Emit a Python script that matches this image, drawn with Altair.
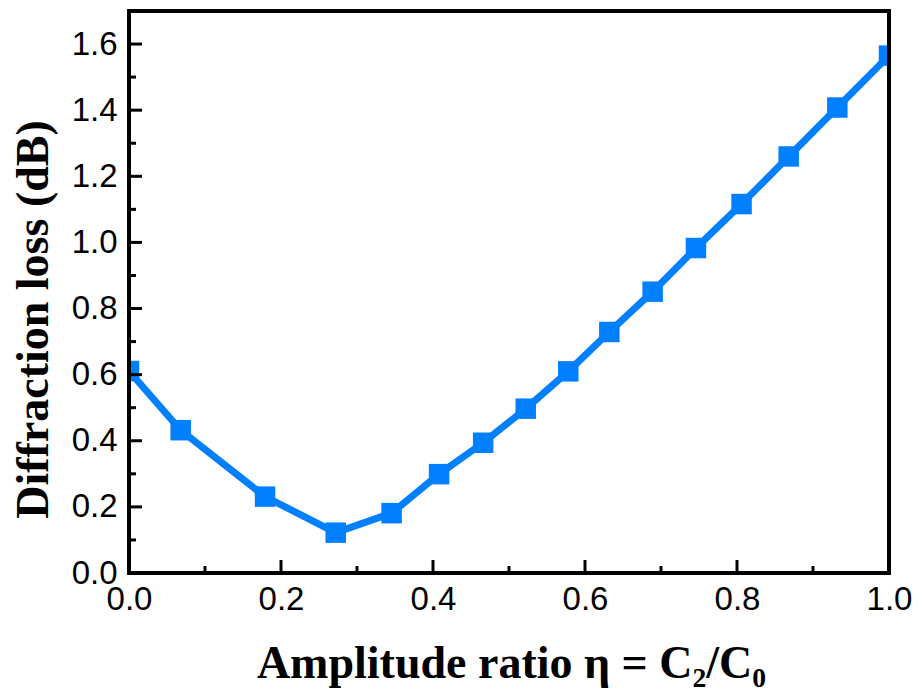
import altair as alt
import pandas as pd

# ---- data ----
eta = [0.0, 0.068, 0.179, 0.272, 0.3455, 0.408, 0.466, 0.522, 0.578, 0.632,
       0.689, 0.746, 0.806, 0.868, 0.932, 1.0]
loss = [0.611, 0.432, 0.231, 0.122, 0.181, 0.299, 0.394, 0.497, 0.610, 0.729,
        0.851, 0.983, 1.116, 1.260, 1.408, 1.565]

y_major = [0.0, 0.2, 0.4, 0.6, 0.8, 1.0, 1.2, 1.4, 1.6]
y_minor = [0.1, 0.3, 0.5, 0.7, 0.9, 1.1, 1.3, 1.5]
x_major = [0.0, 0.2, 0.4, 0.6, 0.8, 1.0]
x_minor = [0.1, 0.3, 0.5, 0.7, 0.9]

x_title = "Amplitude ratio η = C₂/C₀"
y_title = "Diffraction loss (dB)"

W, H = 760, 562
BLUE = "#0080FF"

df = pd.DataFrame({"eta": eta, "loss": loss})
xs = alt.Scale(domain=[0, 1], nice=False, zero=False)
ys = alt.Scale(domain=[0, 1.7], nice=False, zero=False)

x_axis = alt.Axis(values=x_major, format=".1f", title=x_title, ticks=False,
                  domain=False, grid=False, labelFont="Liberation Sans",
                  labelFontSize=33, labelColor="black", labelPadding=10,
                  labelFlush=False, labelOverlap=False,
                  titleFont="Liberation Serif", titleFontSize=46,
                  titleFontWeight="bold", titleColor="black",
                  titleX=382, titleY=104, titleBaseline="alphabetic",
                  titleAlign="center")
y_axis = alt.Axis(values=y_major, format=".1f", title=y_title, ticks=False,
                  domain=False, grid=False, labelFont="Liberation Sans",
                  labelFontSize=33, labelColor="black", labelPadding=12,
                  labelFlush=False, labelOverlap=False,
                  titleFont="Liberation Serif", titleFontSize=46,
                  titleFontWeight="bold", titleColor="black",
                  titleX=-82, titleY=308, titleAngle=270,
                  titleBaseline="alphabetic", titleAlign="center")

X = alt.X("eta:Q", scale=xs, axis=x_axis)
Y = alt.Y("loss:Q", scale=ys, axis=y_axis)

line = alt.Chart(df).mark_line(color=BLUE, strokeWidth=7, clip=True).encode(x=X, y=Y)
pts = alt.Chart(df).mark_point(shape="square", filled=True, size=420,
                               color=BLUE, opacity=1, clip=True).encode(x=X, y=Y)

ymaj = pd.DataFrame({"loss": y_major})
ymin = pd.DataFrame({"loss": y_minor})
xmaj = pd.DataFrame({"eta": x_major})
xmin = pd.DataFrame({"eta": x_minor})

tick_style = dict(color="black", strokeWidth=3)
left_major = alt.Chart(ymaj).mark_rule(**tick_style).encode(
    y=Y, x=alt.value(0), x2=alt.value(13))
left_minor = alt.Chart(ymin).mark_rule(**tick_style).encode(
    y=Y, x=alt.value(0), x2=alt.value(7))
bot_major = alt.Chart(xmaj).mark_rule(**tick_style).encode(
    x=X, y=alt.value(H), y2=alt.value(H - 13))
bot_minor = alt.Chart(xmin).mark_rule(**tick_style).encode(
    x=X, y=alt.value(H), y2=alt.value(H - 7))

frame_style = dict(color="black", strokeWidth=4, strokeCap="square")
top_edge = alt.Chart(ymaj).mark_rule(**frame_style).encode(
    x=alt.value(0), x2=alt.value(W), y=alt.value(0))
bot_edge = alt.Chart(ymaj).mark_rule(**frame_style).encode(
    x=alt.value(0), x2=alt.value(W), y=alt.value(H))
left_edge = alt.Chart(ymaj).mark_rule(**frame_style).encode(
    y=alt.value(0), y2=alt.value(H), x=alt.value(0))
right_edge = alt.Chart(ymaj).mark_rule(**frame_style).encode(
    y=alt.value(0), y2=alt.value(H), x=alt.value(W))

chart = alt.layer(
    line, pts, left_major, left_minor, bot_major, bot_minor,
    top_edge, bot_edge, left_edge, right_edge,
).properties(
    width=W, height=H,
    padding={"left": 129, "top": 11, "right": 30, "bottom": 120},
    autosize=alt.AutoSizeParams(type="none"),
    background="white",
).configure_view(stroke=None)

chart.save("out.html", embed_options={"renderer": "svg", "actions": False})
